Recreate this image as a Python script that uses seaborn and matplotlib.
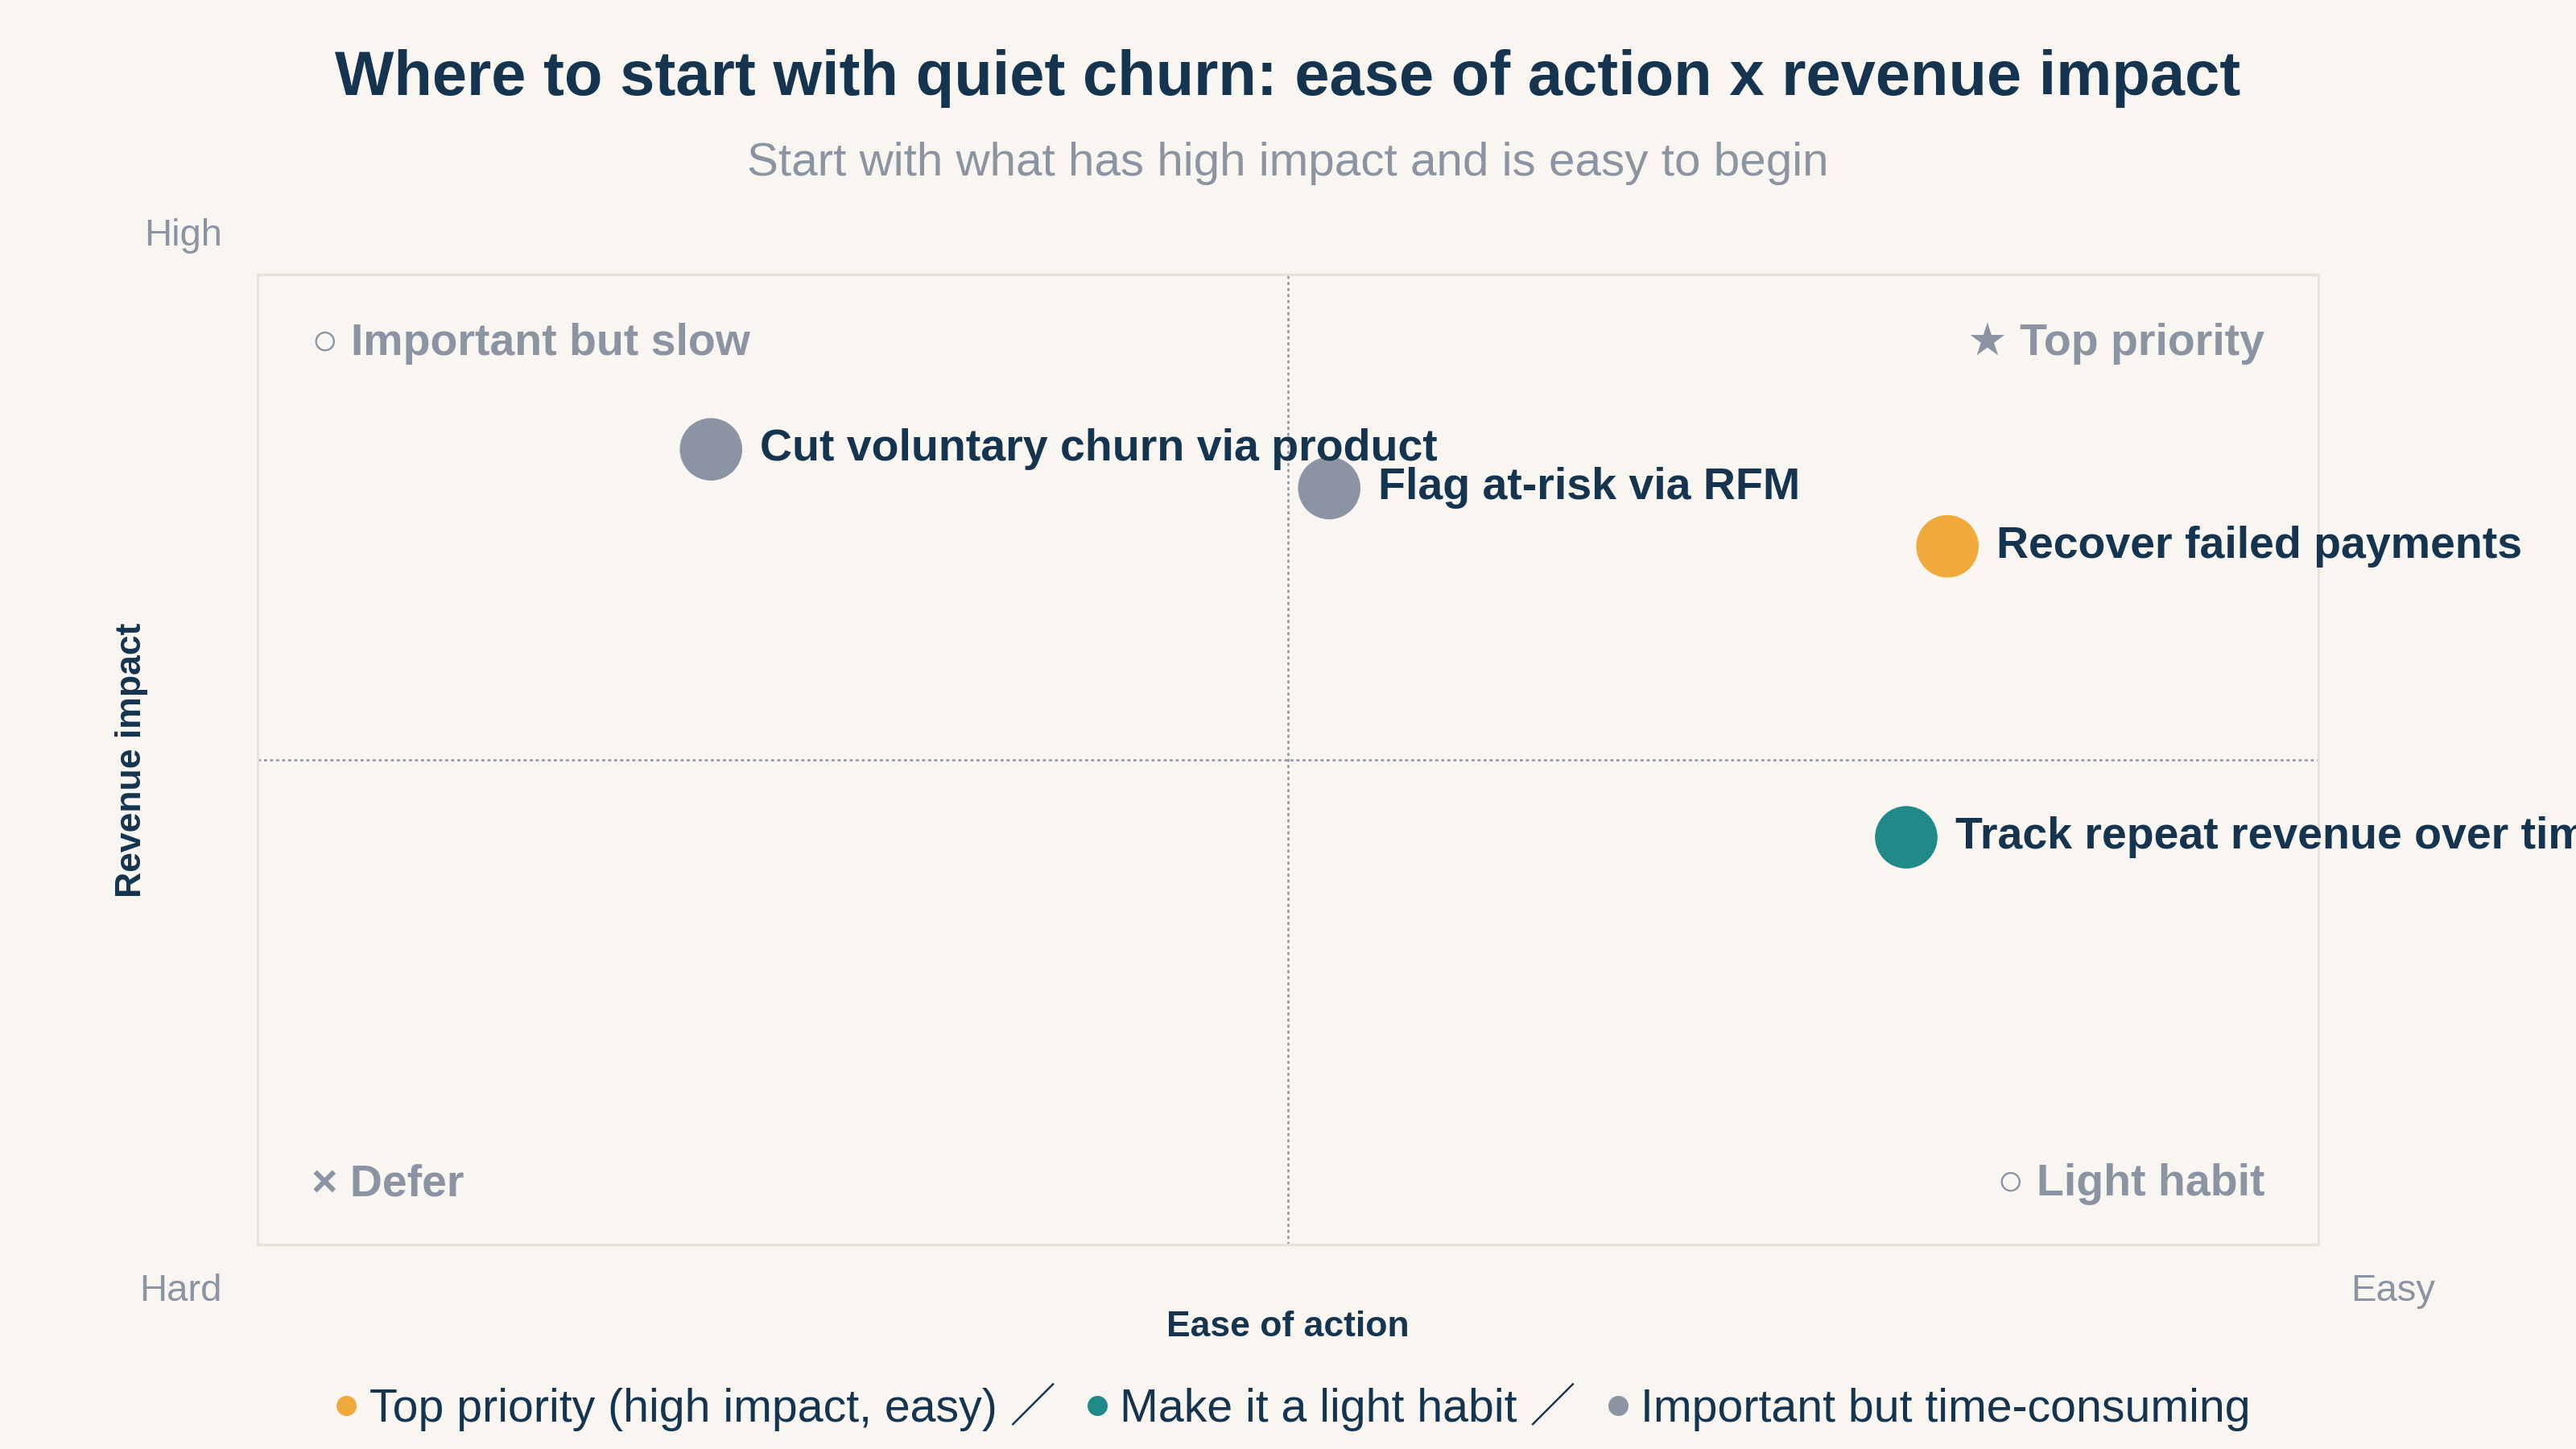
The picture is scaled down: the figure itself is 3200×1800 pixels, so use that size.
import pandas as pd
import numpy as np
import matplotlib.pyplot as plt
import seaborn as sns
from matplotlib.lines import Line2D

# ===============================
# datos
# ===============================
acciones = ['Cut voluntary churn via product', 'Flag at-risk via RFM',
            'Recover failed payments', 'Track repeat revenue over time']
facilidad = [2.2, 5.2, 8.2, 8.0]
impacto = [8.2, 7.8, 7.2, 4.2]
grupo = ['Important but time-consuming', 'Important but time-consuming',
         'Top priority (high impact, easy)', 'Make it a light habit']

grupos_orden = ['Top priority (high impact, easy)', 'Make it a light habit',
                'Important but time-consuming']
colores = ['#F0A93B', '#1F8A87', '#8A94A3']

cuadrantes = ['\u25cb Important but slow', '\u2605 Top priority',
              '\u00d7 Defer', '\u25cb Light habit']

df = pd.DataFrame({'accion': acciones, 'ease': facilidad,
                   'impact': impacto, 'grupo': grupo})

# ===============================
# estilo
# ===============================
fondo = '#F9F6F1'
navy = '#14344F'
gris = '#8A94A3'
borde = '#E8E2D8'

sns.set_theme(style='white')
plt.rcParams['font.family'] = ['Liberation Sans', 'DejaVu Sans', 'Noto Sans CJK SC']

fig = plt.figure(figsize=(16, 9), dpi=200, facecolor=fondo)
ax = fig.add_axes([0.1, 0.141, 0.8, 0.6694])
ax.set_facecolor(fondo)

paleta = dict(zip(grupos_orden, colores))
sns.scatterplot(data=df, x='ease', y='impact', hue='grupo', palette=paleta,
                s=780, linewidth=0, legend=False, ax=ax, zorder=3)

ax.set_xlim(0, 10)
ax.set_ylim(0, 10)
ax.set_xticks([])
ax.set_yticks([])
ax.set_xlabel('')
ax.set_ylabel('')
for sp in ax.spines.values():
    sp.set_color(borde)
    sp.set_linewidth(1.2)

# lineas medias
ax.axvline(5, color=gris, lw=0.9, ls=(0, (1.5, 1.5)), zorder=1)
ax.axhline(5, color=gris, lw=0.9, ls=(0, (1.5, 1.5)), zorder=1)

# etiquetas de puntos (la ultima se corta en el borde, igual que el original)
for i in range(len(df)):
    ax.annotate(df['accion'][i], (df['ease'][i], df['impact'][i]),
                xytext=(22, 0), textcoords='offset points',
                ha='left', va='center', fontsize=20, fontweight='bold',
                color=navy, zorder=4)

# cuadrantes
pos = [(0.026, 0.929, 'left'), (0.974, 0.929, 'right'),
       (0.026, 0.062, 'left'), (0.974, 0.062, 'right')]
for texto, (x, y, ha) in zip(cuadrantes, pos):
    ax.text(x, y, texto, transform=ax.transAxes, ha=ha, va='center',
            fontsize=20, fontweight='bold', color=gris)

# textos de figura
fig.text(0.5, 0.946, 'Where to start with quiet churn: ease of action x revenue impact',
         ha='center', va='center', fontsize=28, fontweight='bold', color=navy)
fig.text(0.5, 0.887, 'Start with what has high impact and is easy to begin',
         ha='center', va='center', fontsize=21, color=gris)

fig.text(0.071, 0.837, 'High', ha='center', va='center', fontsize=17, color=gris)
fig.text(0.070, 0.109, 'Hard', ha='center', va='center', fontsize=17, color=gris)
fig.text(0.929, 0.109, 'Easy', ha='center', va='center', fontsize=17, color=gris)

fig.text(0.5, 0.084, 'Ease of action', ha='center', va='center',
         fontsize=16, fontweight='bold', color=navy)
fig.text(0.051, 0.4755, 'Revenue impact', ha='center', va='center', rotation=90,
         fontsize=16, fontweight='bold', color=navy)

# leyenda
etiquetas = [grupos_orden[0] + ' \uff0f', grupos_orden[1] + ' \uff0f', grupos_orden[2]]
manijas = [Line2D([], [], marker='o', ls='', markersize=9, color=c,
                  markeredgewidth=0) for c in colores]
fig.legend(manijas, etiquetas, loc='center', bbox_to_anchor=(0.5, 0.029),
           ncol=3, frameon=False, fontsize=20.6, handletextpad=0.05,
           columnspacing=0.45, handlelength=0.9, labelcolor=navy)

plt.savefig('out.png', dpi=200, facecolor=fondo)
